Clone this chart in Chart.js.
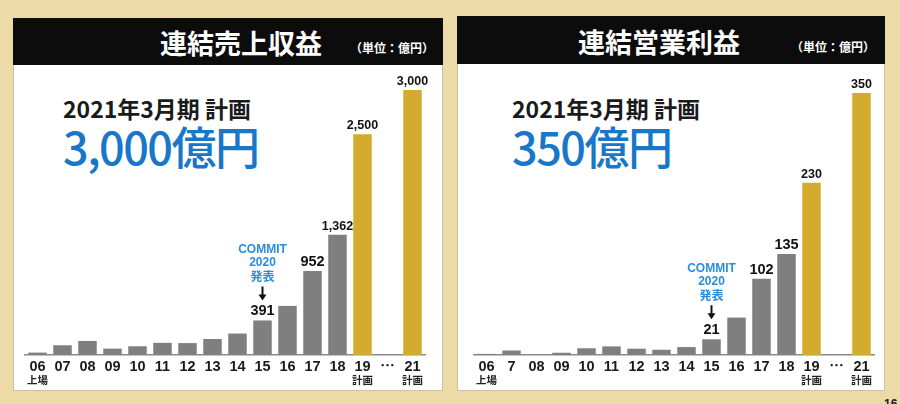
<!DOCTYPE html>
<html lang="ja">
<head>
<meta charset="UTF-8">
<title>連結売上収益 / 連結営業利益</title>
<script src="https://cdn.jsdelivr.net/npm/chart.js"></script>
<style>
    body {
        margin: 0;
        width: 900px;
        height: 404px;
        overflow: hidden;
        background: #ecdba6;
        font-family: 'Noto Sans CJK JP', sans-serif;
        position: relative;
    }
    .panel {
        position: absolute;
        background: #fff;
        border: 1px solid #c9c2a8;
        box-sizing: border-box;
    }
    .head {
        position: absolute;
        background: #0c0c0c;
    }
    .title {
        position: absolute;
        color: #fff;
        font-size: 27px;
        font-weight: bold;
        line-height: 1;
        white-space: nowrap;
    }
    .unit {
        position: absolute;
        color: #fff;
        font-size: 12px;
        font-weight: bold;
        line-height: 1;
        white-space: nowrap;
    }
    .plan {
        position: absolute;
        font-size: 23px;
        font-weight: bold;
        color: #1a1a1a;
        line-height: 1;
        white-space: nowrap;
    }
    .big {
        position: absolute;
        font-size: 45px;
        font-weight: 500;
        color: #1877c9;
        line-height: 1;
        letter-spacing: -1.5px;
        white-space: nowrap;
    }
    .chart-box {
        position: absolute;
    }
    .pageno {
        position: absolute;
        left: 884px;
        top: 397px;
        font-size: 12px;
        font-weight: bold;
        color: #222;
        font-family: 'Liberation Sans', sans-serif;
    }
</style>
</head>
<body>
    <div class="panel" style="left:13px; top:18px; width:430px; height:373px;"></div>
    <div class="head" style="left:13px; top:18px; width:430px; height:47px;"></div>
    <div class="title" style="left:160px; top:29px;">連結売上収益</div>
    <div class="unit" style="left:350px; top:42px;">（単位：億円）</div>
    <div class="plan" style="left:63px; top:97px;">2021年3月期 計画</div>
    <div class="big" style="left:63px; top:123px;">3,000億円</div>
    <div class="chart-box" style="left:13px; top:65px; width:430px; height:326px;">
        <canvas id="salesChart"></canvas>
    </div>

    <div class="panel" style="left:457px; top:16px; width:428px; height:375px;"></div>
    <div class="head" style="left:457px; top:16px; width:428px; height:48px;"></div>
    <div class="title" style="left:578px; top:28px;">連結営業利益</div>
    <div class="unit" style="left:791px; top:41px;">（単位：億円）</div>
    <div class="plan" style="left:512px; top:97px;">2021年3月期 計画</div>
    <div class="big" style="left:512px; top:123px;">350億円</div>
    <div class="chart-box" style="left:457px; top:64px; width:428px; height:327px;">
        <canvas id="profitChart"></canvas>
    </div>

    <div class="pageno">16</div>

<script>
    // fiscal years (March year-end), "⋯" is the gap before FY21
    const salesYears = ['06', '07', '08', '09', '10', '11', '12', '13', '14', '15', '16', '17', '18', '19', '⋯', '21'];
    const profitYears = ['06', '7', '08', '09', '10', '11', '12', '13', '14', '15', '16', '17', '18', '19', '⋯', '21'];
    const subLabels = ['上場', '', '', '', '', '', '', '', '', '', '', '', '', '計画', '', '計画'];

    // 億円
    const salesValues = [27, 110, 159, 72, 99, 138, 135, 181, 243, 391, 556, 952, 1362, 2500, null, 3000];
    const profitValues = [1.5, 6, 0, 3, 9, 11.5, 8.4, 7, 10.6, 21, 50, 102, 135, 230, null, 350];

    // plan years drawn in gold
    const planIndexes = [13, 15];
    // bars that carry a value label
    const labeledIndexes = [9, 11, 12, 13, 15];
    // COMMIT 2020 announcement (FY15)
    const commitIndex = 9;
    const commitText = ['COMMIT', '2020', '発表'];

    const GRAY = '#7f7f7f';
    const GOLD = '#d3ab2e';
    const NUM_FONT = "'Liberation Sans', 'Noto Sans CJK JP', sans-serif";

    const overlayPlugin = {
        id: 'overlay',
        afterDatasetsDraw(chart) {
            const ctx = chart.ctx;
            const meta = chart.getDatasetMeta(0);
            const values = chart.data.datasets[0].data;
            const xs = chart.scales.x;
            const bottom = chart.chartArea.bottom;
            ctx.save();
            ctx.textAlign = 'center';

            // value labels
            ctx.fillStyle = '#111';
            ctx.textBaseline = 'alphabetic';
            labeledIndexes.forEach(i => {
                const bar = meta.data[i];
                const small = planIndexes.includes(i) || values[i] >= 1000;
                ctx.font = 'bold ' + (small ? 12.5 : 14.5) + 'px ' + NUM_FONT;
                ctx.fillText(values[i].toLocaleString('en-US'), bar.x, bar.y - 5);
            });

            // sub labels under the ticks
            ctx.font = 'bold 10.5px "Noto Sans CJK JP", sans-serif';
            ctx.fillStyle = '#222';
            ctx.textBaseline = 'middle';
            subLabels.forEach((t, i) => {
                if (t) ctx.fillText(t, xs.getPixelForTick(i), bottom + 25);
            });

            // COMMIT 2020 note with arrow
            const cb = meta.data[commitIndex];
            const arrowBottom = cb.y - 20;
            const arrowTop = arrowBottom - 14;
            ctx.strokeStyle = '#111';
            ctx.fillStyle = '#111';
            ctx.lineWidth = 2;
            ctx.beginPath();
            ctx.moveTo(cb.x, arrowTop);
            ctx.lineTo(cb.x, arrowBottom - 5);
            ctx.stroke();
            ctx.beginPath();
            ctx.moveTo(cb.x - 4, arrowBottom - 6);
            ctx.lineTo(cb.x + 4, arrowBottom - 6);
            ctx.lineTo(cb.x, arrowBottom);
            ctx.closePath();
            ctx.fill();

            ctx.fillStyle = '#2a8ddd';
            commitText.forEach((t, k) => {
                const y = arrowTop - 10 - (commitText.length - 1 - k) * 13.5;
                ctx.font = 'bold 12px ' + (k === 2 ? '"Noto Sans CJK JP"' : NUM_FONT);
                ctx.fillText(t, cb.x, y);
            });
            ctx.restore();
        }
    };

    function makeChart(id, labels, values, maxVal, pad) {
        return new Chart(document.getElementById(id), {
            type: 'bar',
            data: {
                labels: labels,
                datasets: [{
                    data: values,
                    backgroundColor: values.map((v, i) => planIndexes.includes(i) ? GOLD : GRAY),
                    borderWidth: 0,
                    barPercentage: 0.74,
                    categoryPercentage: 1
                }]
            },
            options: {
                responsive: true,
                maintainAspectRatio: false,
                animation: false,
                layout: { padding: pad },
                plugins: {
                    legend: { display: false },
                    tooltip: { enabled: false }
                },
                scales: {
                    x: {
                        grid: { display: false, drawTicks: false },
                        border: { display: true, color: '#8a8a8a', width: 1.5 },
                        ticks: {
                            color: '#1a1a1a',
                            padding: 3,
                            maxRotation: 0,
                            autoSkip: false,
                            font: { family: NUM_FONT, size: 14.5, weight: 'bold' }
                        },
                        afterFit: s => { s.height = 36; }
                    },
                    y: {
                        display: false,
                        min: 0,
                        max: maxVal
                    }
                }
            },
            plugins: [overlayPlugin]
        });
    }

    makeChart('salesChart', salesYears, salesValues, 3000, { left: 12, right: 18, top: 25, bottom: 0 });
    makeChart('profitChart', profitYears, profitValues, 350, { left: 17, right: 11, top: 29, bottom: 0 });
</script>
</body>
</html>
